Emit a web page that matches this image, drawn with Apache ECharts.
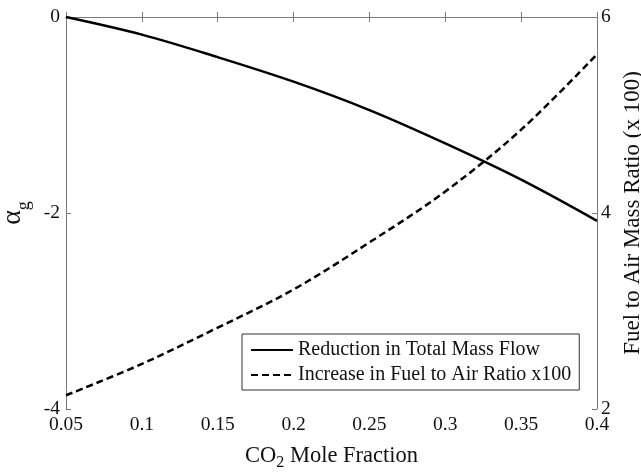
<!DOCTYPE html>
<html>
<head>
<meta charset="utf-8">
<script src="https://cdn.jsdelivr.net/npm/echarts@6/dist/echarts.min.js"></script>
<style>
  html, body { margin: 0; padding: 0; background: #fff; }
  #chart { width: 641px; height: 473px; }
</style>
</head>
<body>
<div id="chart"></div>
<script>
// CO2 mole fraction along the horizontal axis
const co2Fraction = [0.05, 0.10, 0.15, 0.20, 0.25, 0.30, 0.35, 0.40];
// alpha_g: reduction in total mass flow (left axis)
const massFlowReduction = [0, -0.18, -0.41, -0.66, -0.95, -1.29, -1.66, -2.08];
// fuel to air mass ratio x100 (right axis)
const fuelAirRatio = [2.14, 2.46, 2.83, 3.22, 3.70, 4.22, 4.85, 5.62];

const seriesNames = ['Reduction in Total Mass Flow', 'Increase in Fuel to Air Ratio x100'];

const FONT = '"Liberation Serif", "Times New Roman", serif';
const AXIS_GRAY = '#7a7a7a';

const chart = echarts.init(document.getElementById('chart'), null, { renderer: 'canvas' });

const pair = (xs, ys) => xs.map((x, i) => [x, ys[i]]);

const baseAxis = {
  axisLine: { show: true, lineStyle: { color: AXIS_GRAY, width: 1 } },
  axisTick: { show: true, inside: true, length: 5, lineStyle: { color: AXIS_GRAY, width: 1 } },
  splitLine: { show: false },
  axisLabel: { color: '#111', fontFamily: FONT, fontSize: 19.5 }
};

chart.setOption({
  animation: false,
  backgroundColor: '#fff',
  grid: { left: 66, right: 44, top: 17, bottom: 64, containLabel: false, outerBoundsMode: 'none' },
  xAxis: [
    Object.assign({}, baseAxis, {
      type: 'value', position: 'bottom', min: 0.05, max: 0.4, interval: 0.05,
      axisLabel: Object.assign({}, baseAxis.axisLabel, { margin: 6 }),
      name: '{a|CO}{s|2}{a| Mole Fraction}',
      nameLocation: 'middle', nameGap: 32,
      nameTextStyle: {
        color: '#111',
        rich: {
          a: { fontFamily: FONT, fontSize: 22.5, color: '#111' },
          s: { fontFamily: FONT, fontSize: 16, color: '#111', verticalAlign: 'bottom', padding: [14, 0, 0, 0] }
        }
      }
    }),
    Object.assign({}, baseAxis, {
      type: 'value', position: 'top', min: 0.05, max: 0.4, interval: 0.05,
      axisLabel: { show: false }
    })
  ],
  yAxis: [
    Object.assign({}, baseAxis, {
      type: 'value', position: 'left', min: -4, max: 0, interval: 2,
      axisLabel: Object.assign({}, baseAxis.axisLabel, { margin: 6 }),
      name: '{a|α}{s|g}',
      nameLocation: 'middle', nameGap: 31, nameRotate: 90,
      nameTextStyle: {
        color: '#111',
        rich: {
          a: { fontFamily: FONT, fontSize: 28, color: '#111' },
          s: { fontFamily: FONT, fontSize: 18, color: '#111', padding: [22, 0, 0, 0] }
        }
      }
    }),
    Object.assign({}, baseAxis, {
      type: 'value', position: 'right', min: 2, max: 6, interval: 2,
      axisLabel: Object.assign({}, baseAxis.axisLabel, { margin: 4 }),
      name: 'Fuel to Air Mass Ratio (x 100)',
      nameLocation: 'middle', nameGap: 17, nameRotate: 90,
      nameTextStyle: { color: '#111', fontFamily: FONT, fontSize: 23 }
    })
  ],
  legend: {
    orient: 'vertical',
    left: 242, top: 334,
    backgroundColor: '#fff',
    borderColor: '#333', borderWidth: 1,
    padding: [6, 8, 5, 8],
    itemGap: 5,
    itemWidth: 42, itemHeight: 14,
    itemStyle: { color: 'transparent', borderWidth: 0, opacity: 0 },
    textStyle: { fontFamily: FONT, fontSize: 20, color: '#111' },
    data: seriesNames
  },
  series: [
    {
      name: seriesNames[0], type: 'line', xAxisIndex: 0, yAxisIndex: 0,
      data: pair(co2Fraction, massFlowReduction),
      smooth: 0.35, symbol: 'none',
      lineStyle: { color: '#000', width: 2.5, type: 'solid' },
      itemStyle: { color: '#000' }
    },
    {
      name: seriesNames[1], type: 'line', xAxisIndex: 0, yAxisIndex: 1,
      data: pair(co2Fraction, fuelAirRatio),
      smooth: 0.35, symbol: 'none',
      lineStyle: { color: '#000', width: 2.5, type: [7, 4] },
      itemStyle: { color: '#000' }
    }
  ]
});
</script>
</body>
</html>
